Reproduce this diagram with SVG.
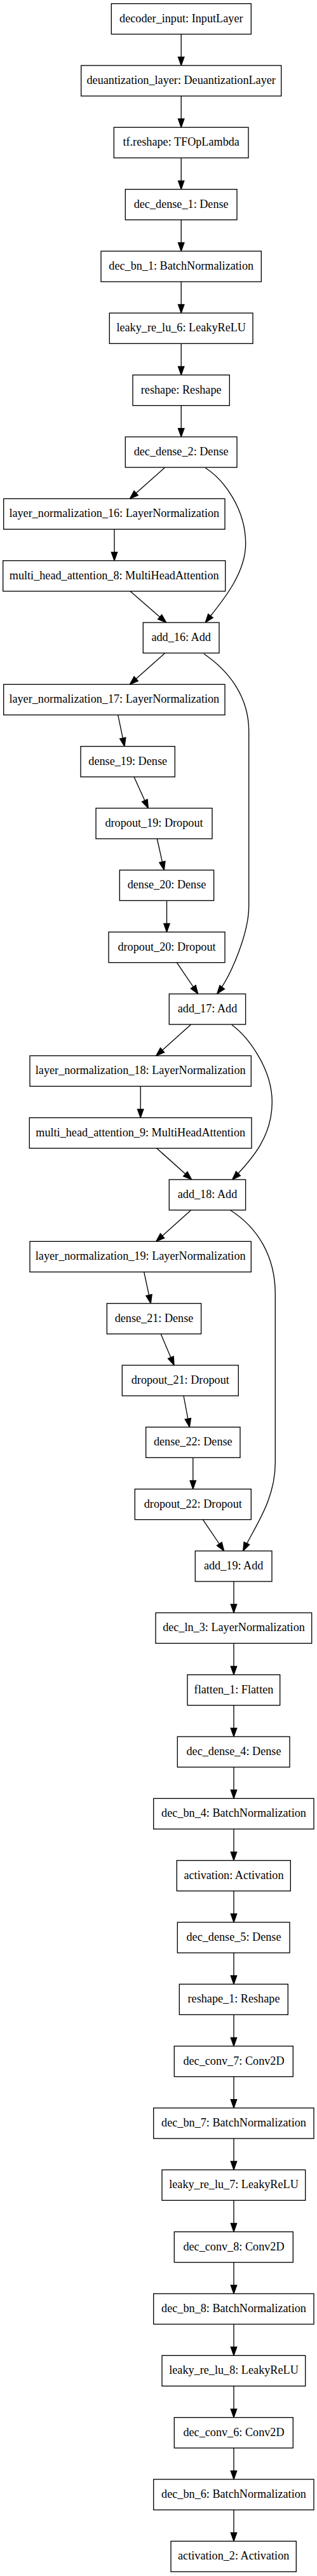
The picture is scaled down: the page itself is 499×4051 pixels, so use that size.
<svg xmlns="http://www.w3.org/2000/svg" width="499" height="4051" viewBox="0 0 499 4051">
<style>
.n rect{fill:#fff;stroke:#000;stroke-width:1.33}
.n text{font-family:"Liberation Serif","Times New Roman",serif;font-size:18.2px;fill:#000;text-anchor:middle}
.e path{fill:none;stroke:#000;stroke-width:1.33;marker-end:url(#ah)}
</style>
<defs>
<marker id="ah" markerUnits="userSpaceOnUse" markerWidth="16" markerHeight="12" refX="13.3" refY="0" orient="auto" overflow="visible">
<path d="M0,-4.7 L13.3,0 L0,4.7 z" fill="#000" stroke="#000" stroke-width="1.33"/>
</marker>
</defs>
<rect width="499" height="4051" fill="#fff"/>
<g id="connectors" class="e">
<path d="M285.2,53.7 L285.2,103"/>
<path d="M285.2,151 L285.2,200.3"/>
<path d="M285.2,248.3 L285.2,297.7"/>
<path d="M285.2,345.7 L285.2,395"/>
<path d="M285.2,443 L285.2,492.3"/>
<path d="M285.2,540.3 L285.2,589.7"/>
<path d="M285.2,637.7 L285.2,687"/>
<path d="M259.7,735 L204.3,784.3"/>
<path d="M323.3,735.7 C352,754 386.7,800 386.7,855 C386.7,905 345,951 323.3,979"/>
<path d="M180,832.3 L180,881.7"/>
<path d="M205,929.7 L261.7,979"/>
<path d="M259.7,1027 L204.3,1076.3"/>
<path d="M321,1028.3 C360,1055 391.7,1095 391.7,1150 L391.7,1425 C391.7,1465 366,1531 341.7,1563"/>
<path d="M185.7,1124.3 L196,1173.7"/>
<path d="M211,1221.7 L233.3,1271"/>
<path d="M247.3,1319 L258.3,1368.3"/>
<path d="M262.5,1416.3 L262.5,1465.7"/>
<path d="M278.3,1513.7 L311.7,1563"/>
<path d="M300.7,1611 L245.7,1660.3"/>
<path d="M365,1611.7 C390,1630 428.3,1680 428.3,1733 C428.3,1785 400,1820 365.7,1855"/>
<path d="M221.2,1708.3 L221.2,1757.7"/>
<path d="M246.7,1805.7 L301.7,1855"/>
<path d="M300.7,1903 L245.7,1952.3"/>
<path d="M362.7,1903.3 C405,1930 433.3,1975 433.3,2035 L433.3,2300 C433.3,2360 400,2402 382.7,2439"/>
<path d="M226.7,2000.3 L237.3,2049.7"/>
<path d="M253.3,2098 L274,2147"/>
<path d="M289,2195 L298.3,2244.3"/>
<path d="M303.8,2292.3 L303.8,2341.7"/>
<path d="M319.3,2389.7 L352.7,2439"/>
<path d="M368,2487 L368,2536.3"/>
<path d="M368,2584.3 L368,2633.7"/>
<path d="M368,2681.7 L368,2731"/>
<path d="M368,2779 L368,2828.3"/>
<path d="M368,2876.3 L368,2925.7"/>
<path d="M368,2973.7 L368,3023"/>
<path d="M368,3071 L368,3120.3"/>
<path d="M368,3168.3 L368,3217.7"/>
<path d="M368,3265.7 L368,3315"/>
<path d="M368,3363 L368,3412.3"/>
<path d="M368,3460.3 L368,3509.7"/>
<path d="M368,3557.7 L368,3607"/>
<path d="M368,3655 L368,3704.3"/>
<path d="M368,3752.3 L368,3801.7"/>
<path d="M368,3849.7 L368,3899"/>
<path d="M368,3947 L368,3996.3"/>
</g>
<g id="decoder_input" class="n"><rect x="175.3" y="5.7" width="220" height="48"/><text x="285.3" y="34.7">decoder_input: InputLayer</text></g>
<g id="deuantization_layer" class="n"><rect x="127.7" y="103" width="315" height="48"/><text x="285.2" y="132">deuantization_layer: DeuantizationLayer</text></g>
<g id="tf_reshape" class="n"><rect x="179.3" y="200.3" width="211.7" height="48"/><text x="285.2" y="229.3">tf.reshape: TFOpLambda</text></g>
<g id="dec_dense_1" class="n"><rect x="197.3" y="297.7" width="175.7" height="48"/><text x="285.2" y="326.7">dec_dense_1: Dense</text></g>
<g id="dec_bn_1" class="n"><rect x="159" y="395" width="252.3" height="48"/><text x="285.2" y="424">dec_bn_1: BatchNormalization</text></g>
<g id="leaky_re_lu_6" class="n"><rect x="172.3" y="492.3" width="225.7" height="48"/><text x="285.2" y="521.3">leaky_re_lu_6: LeakyReLU</text></g>
<g id="reshape" class="n"><rect x="209" y="589.7" width="152.3" height="48"/><text x="285.2" y="618.7">reshape: Reshape</text></g>
<g id="dec_dense_2" class="n"><rect x="197.3" y="687" width="175.7" height="48"/><text x="285.2" y="716">dec_dense_2: Dense</text></g>
<g id="layer_normalization_16" class="n"><rect x="5.7" y="784.3" width="348.3" height="48"/><text x="179.8" y="813.3">layer_normalization_16: LayerNormalization</text></g>
<g id="multi_head_attention_8" class="n"><rect x="4.7" y="881.7" width="350" height="48"/><text x="179.7" y="910.7">multi_head_attention_8: MultiHeadAttention</text></g>
<g id="add_16" class="n"><rect x="225.3" y="979" width="119.7" height="48"/><text x="285.2" y="1008">add_16: Add</text></g>
<g id="layer_normalization_17" class="n"><rect x="5.7" y="1076.3" width="348.3" height="48"/><text x="179.8" y="1105.3">layer_normalization_17: LayerNormalization</text></g>
<g id="dense_19" class="n"><rect x="127" y="1173.7" width="148.3" height="48"/><text x="201.2" y="1202.7">dense_19: Dense</text></g>
<g id="dropout_19" class="n"><rect x="151" y="1271" width="183" height="48"/><text x="242.5" y="1300">dropout_19: Dropout</text></g>
<g id="dense_20" class="n"><rect x="188.3" y="1368.3" width="148.3" height="48"/><text x="262.5" y="1397.3">dense_20: Dense</text></g>
<g id="dropout_20" class="n"><rect x="171" y="1465.7" width="183" height="48"/><text x="262.5" y="1494.7">dropout_20: Dropout</text></g>
<g id="add_17" class="n"><rect x="266.3" y="1563" width="120.3" height="48"/><text x="326.5" y="1592">add_17: Add</text></g>
<g id="layer_normalization_18" class="n"><rect x="47" y="1660.3" width="348.3" height="48"/><text x="221.2" y="1689.3">layer_normalization_18: LayerNormalization</text></g>
<g id="multi_head_attention_9" class="n"><rect x="46.3" y="1757.7" width="349.7" height="48"/><text x="221.2" y="1786.7">multi_head_attention_9: MultiHeadAttention</text></g>
<g id="add_18" class="n"><rect x="266.3" y="1855" width="120.3" height="48"/><text x="326.5" y="1884">add_18: Add</text></g>
<g id="layer_normalization_19" class="n"><rect x="47" y="1952.3" width="348.3" height="48"/><text x="221.2" y="1981.3">layer_normalization_19: LayerNormalization</text></g>
<g id="dense_21" class="n"><rect x="168.3" y="2049.7" width="148.3" height="48"/><text x="242.5" y="2078.7">dense_21: Dense</text></g>
<g id="dropout_21" class="n"><rect x="192.3" y="2147" width="183" height="48"/><text x="283.8" y="2176">dropout_21: Dropout</text></g>
<g id="dense_22" class="n"><rect x="229.7" y="2244.3" width="148.3" height="48"/><text x="303.8" y="2273.3">dense_22: Dense</text></g>
<g id="dropout_22" class="n"><rect x="212.3" y="2341.7" width="183" height="48"/><text x="303.8" y="2370.7">dropout_22: Dropout</text></g>
<g id="add_19" class="n"><rect x="307.3" y="2439" width="120.7" height="48"/><text x="367.7" y="2468">add_19: Add</text></g>
<g id="dec_ln_3" class="n"><rect x="245" y="2536.3" width="245.7" height="48"/><text x="368" y="2565.3">dec_ln_3: LayerNormalization</text></g>
<g id="flatten_1" class="n"><rect x="295" y="2633.7" width="145.7" height="48"/><text x="368" y="2662.7">flatten_1: Flatten</text></g>
<g id="dec_dense_4" class="n"><rect x="279.3" y="2731" width="176.7" height="48"/><text x="368" y="2760">dec_dense_4: Dense</text></g>
<g id="dec_bn_4" class="n"><rect x="241.7" y="2828.3" width="252.3" height="48"/><text x="368" y="2857.3">dec_bn_4: BatchNormalization</text></g>
<g id="activation" class="n"><rect x="278.3" y="2925.7" width="179" height="48"/><text x="368" y="2954.7">activation: Activation</text></g>
<g id="dec_dense_5" class="n"><rect x="279.3" y="3023" width="176.7" height="48"/><text x="368" y="3052">dec_dense_5: Dense</text></g>
<g id="reshape_1" class="n"><rect x="282.3" y="3120.3" width="171" height="48"/><text x="368" y="3149.3">reshape_1: Reshape</text></g>
<g id="dec_conv_7" class="n"><rect x="274.3" y="3217.7" width="187" height="48"/><text x="368" y="3246.7">dec_conv_7: Conv2D</text></g>
<g id="dec_bn_7" class="n"><rect x="241.7" y="3315" width="252.3" height="48"/><text x="368" y="3344">dec_bn_7: BatchNormalization</text></g>
<g id="leaky_re_lu_7" class="n"><rect x="255" y="3412.3" width="225.7" height="48"/><text x="368" y="3441.3">leaky_re_lu_7: LeakyReLU</text></g>
<g id="dec_conv_8" class="n"><rect x="274.3" y="3509.7" width="187" height="48"/><text x="368" y="3538.7">dec_conv_8: Conv2D</text></g>
<g id="dec_bn_8" class="n"><rect x="241.7" y="3607" width="252.3" height="48"/><text x="368" y="3636">dec_bn_8: BatchNormalization</text></g>
<g id="leaky_re_lu_8" class="n"><rect x="255" y="3704.3" width="225.7" height="48"/><text x="368" y="3733.3">leaky_re_lu_8: LeakyReLU</text></g>
<g id="dec_conv_6" class="n"><rect x="274.3" y="3801.7" width="187" height="48"/><text x="368" y="3830.7">dec_conv_6: Conv2D</text></g>
<g id="dec_bn_6" class="n"><rect x="241.7" y="3899" width="252.3" height="48"/><text x="368" y="3928">dec_bn_6: BatchNormalization</text></g>
<g id="activation_2" class="n"><rect x="269" y="3996.3" width="197.3" height="48"/><text x="367.7" y="4025.3">activation_2: Activation</text></g>
</svg>
